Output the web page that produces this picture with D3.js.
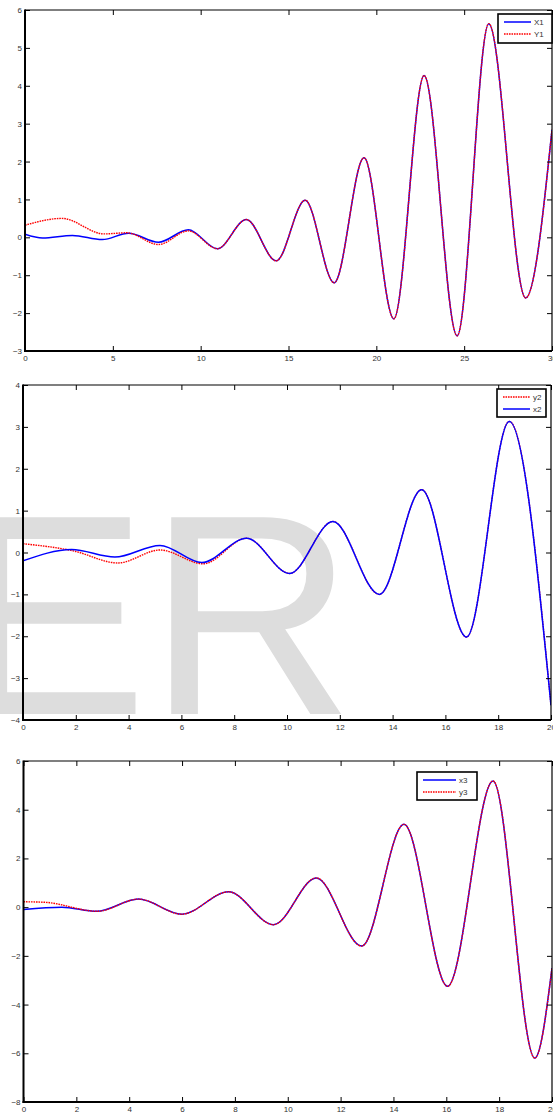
<!DOCTYPE html>
<html lang="en">
<head>
<meta charset="UTF-8">
<title>Oscillation plots</title>
<script src="https://d3js.org/d3.v7.min.js"></script>
<style>
  body { margin: 0; background: #fff; }
  svg { display: block; }
  .tick text, .legend text { font-family: "Liberation Sans", Arial, sans-serif; font-size: 8px; fill: #333; }
  .watermark { font-family: "Liberation Sans", Arial, sans-serif; fill: #dddddd; }
</style>
</head>
<body>
<svg id="chart" width="553" height="1112"></svg>
<script>
// ---- panel 1 (X1, Y1) : turning points
const x1T = [0, 1.0, 2.7, 4.4, 5.9, 7.6, 9.3, 10.95, 12.6, 14.3, 15.95, 17.6, 19.3, 21.0, 22.72, 24.6, 26.4, 28.5, 30];
const x1V = [0.08, -0.02, 0.05, -0.06, 0.11, -0.13, 0.2, -0.3, 0.47, -0.62, 0.98, -1.2, 2.1, -2.15, 4.27, -2.6, 5.64, -1.6, 2.84];
const y1T = [0, 2.1, 4.5, 5.8, 7.6, 9.3, 10.95, 12.6, 14.3, 15.95, 17.6, 19.3, 21.0, 22.72, 24.6, 26.4, 28.5, 30];
const y1V = [0.32, 0.5, 0.09, 0.12, -0.19, 0.17, -0.3, 0.47, -0.62, 0.98, -1.2, 2.1, -2.15, 4.27, -2.6, 5.64, -1.6, 2.84];

// ---- panel 2 (y2, x2)
const y2T = [0, 1.9, 3.6, 5.19, 6.83, 8.47, 10.1, 11.74, 13.5, 15.1, 16.8, 18.42, 20];
const y2V = [0.21, 0.04, -0.25, 0.06, -0.27, 0.34, -0.5, 0.74, -1.0, 1.5, -2.02, 3.13, -3.65];
const x2T = [0, 1.84, 3.48, 5.19, 6.77, 8.47, 10.1, 11.74, 13.5, 15.1, 16.8, 18.42, 20];
const x2V = [-0.2, 0.07, -0.11, 0.17, -0.24, 0.34, -0.5, 0.74, -1.0, 1.5, -2.02, 3.13, -3.65];

// ---- panel 3 (x3, y3)
const x3T = [0, 1.45, 2.77, 4.35, 5.99, 7.76, 9.46, 11.08, 12.8, 14.4, 16.05, 17.77, 19.35, 20];
const x3V = [-0.1, 0.0, -0.17, 0.33, -0.29, 0.63, -0.72, 1.2, -1.6, 3.4, -3.25, 5.18, -6.2, -2.5];
const y3T = [0, 0.8, 2.8, 4.35, 5.99, 7.76, 9.46, 11.08, 12.8, 14.4, 16.05, 17.77, 19.35, 20];
const y3V = [0.22, 0.2, -0.17, 0.33, -0.29, 0.63, -0.72, 1.2, -1.6, 3.4, -3.25, 5.18, -6.2, -2.5];

// ---- tick labels
const ticksX1 = [0, 5, 10, 15, 20, 25, 30];
const ticksY1 = [-3, -2, -1, 0, 1, 2, 3, 4, 5, 6];
const ticksX2 = [0, 2, 4, 6, 8, 10, 12, 14, 16, 18, 20];
const ticksY2 = [-4, -3, -2, -1, 0, 1, 2, 3, 4];
const ticksX3 = [0, 2, 4, 6, 8, 10, 12, 14, 16, 18, 20];
const ticksY3 = [-8, -6, -4, -2, 0, 2, 4, 6];

const BLUE = "#0000ff", RED = "#ff0000";
const zip = (t, v) => t.map((d, i) => [d, v[i]]);

const panels = [
  { box: [25, 10, 552, 351], xd: [0, 30], yd: [-3, 6], tx: ticksX1, ty: ticksY1,
    series: [ { name: "X1", pts: zip(x1T, x1V), color: BLUE, dotted: false },
              { name: "Y1", pts: zip(y1T, y1V), color: RED, dotted: true } ],
    legend: { x: 498, y: 14, w: 54, h: 29, line: 27 } },
  { box: [23, 385, 551, 720], xd: [0, 20], yd: [-4, 4], tx: ticksX2, ty: ticksY2,
    series: [ { name: "y2", pts: zip(y2T, y2V), color: RED, dotted: true },
              { name: "x2", pts: zip(x2T, x2V), color: BLUE, dotted: false } ],
    legend: { x: 497, y: 389, w: 49, h: 28, line: 27 } },
  { box: [23.5, 761, 552, 1102], xd: [0, 20], yd: [-8, 6], tx: ticksX3, ty: ticksY3,
    series: [ { name: "x3", pts: zip(x3T, x3V), color: BLUE, dotted: false },
              { name: "y3", pts: zip(y3T, y3V), color: RED, dotted: true } ],
    legend: { x: 417, y: 772, w: 60, h: 28, line: 33 } }
];

const svg = d3.select("#chart");

// faint lettering behind the middle plot
svg.append("text").attr("class", "watermark")
  .attr("x", -43).attr("y", 714)
  .attr("font-size", 286)
  .text("ER");

function styleSeries(sel, s) {
  sel.attr("fill", "none")
    .attr("stroke", s.color)
    .attr("stroke-width", s.dotted ? 1.4 : 1.5)
    .attr("stroke-dasharray", s.dotted ? "1.6,0.9" : null);
}

panels.forEach((p, k) => {
  const [x0, y0, x1, y1] = p.box;
  const x = d3.scaleLinear().domain(p.xd).range([x0, x1]);
  const y = d3.scaleLinear().domain(p.yd).range([y1, y0]);
  const g = svg.append("g");

  const clipId = "clip" + k;
  svg.append("clipPath").attr("id", clipId)
    .append("rect").attr("x", x0).attr("y", y0).attr("width", x1 - x0).attr("height", y1 - y0);

  // curves
  const line = d3.line().x(d => x(d[0])).y(d => y(d[1])).curve(d3.curveMonotoneX);
  p.series.forEach(s => {
    g.append("path")
      .attr("clip-path", `url(#${clipId})`)
      .attr("d", line(s.pts))
      .call(styleSeries, s);
  });

  // axes, ticks pointing inward on all four sides
  g.append("g").attr("transform", `translate(0,${y1})`)
    .call(d3.axisBottom(x).tickValues(p.tx).tickSize(-5).tickPadding(4).tickFormat(d3.format("d")));
  g.append("g").attr("transform", `translate(${x0},0)`)
    .call(d3.axisLeft(y).tickValues(p.ty).tickSize(-5).tickPadding(3).tickFormat(d3.format("d")));
  g.append("g").attr("transform", `translate(0,${y0})`)
    .call(d3.axisTop(x).tickValues(p.tx).tickSize(-5).tickFormat(""));
  g.append("g").attr("transform", `translate(${x1},0)`)
    .call(d3.axisRight(y).tickValues(p.ty).tickSize(-5).tickFormat(""));
  g.selectAll(".domain").remove();
  g.selectAll(".tick line").attr("stroke", "#000").attr("stroke-width", 1);

  // box
  g.append("line").attr("x1", x0).attr("x2", x1).attr("y1", y0).attr("y2", y0).attr("stroke", "#000").attr("stroke-width", 1.2);
  g.append("line").attr("x1", x1).attr("x2", x1).attr("y1", y0).attr("y2", y1).attr("stroke", "#000").attr("stroke-width", 1.2);
  g.append("line").attr("x1", x0).attr("x2", x0).attr("y1", y0 - 0.6).attr("y2", y1 + 1).attr("stroke", "#000").attr("stroke-width", 2);
  g.append("line").attr("x1", x0 - 1).attr("x2", x1).attr("y1", y1).attr("y2", y1).attr("stroke", "#000").attr("stroke-width", 2);

  // legend
  const L = p.legend;
  const lg = g.append("g").attr("class", "legend").attr("transform", `translate(${L.x},${L.y})`);
  lg.append("rect").attr("width", L.w).attr("height", L.h)
    .attr("fill", "#fff").attr("stroke", "#000").attr("stroke-width", 1.6);
  p.series.forEach((s, i) => {
    const ry = 8 + i * 12;
    lg.append("line").attr("x1", 6).attr("x2", 6 + L.line).attr("y1", ry).attr("y2", ry)
      .call(styleSeries, s);
    lg.append("text").attr("x", 9 + L.line).attr("y", ry).attr("dy", "0.35em").text(s.name);
  });
});
</script>
</body>
</html>
